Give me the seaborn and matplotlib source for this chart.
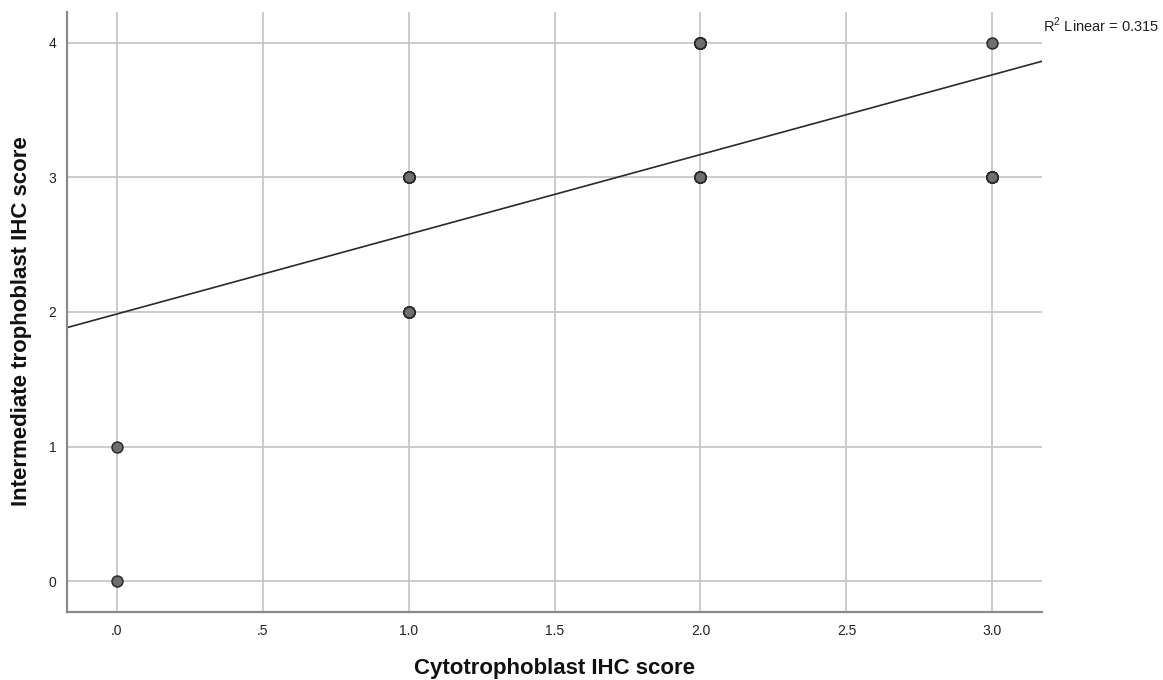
import numpy as np
import pandas as pd
import matplotlib
matplotlib.use("Agg")
import matplotlib.pyplot as plt
import seaborn as sns

# Data: distinct (x, y) score combinations and how many cases share each
x_scores = [0, 0, 1, 1, 2, 2, 3, 3]
y_scores = [0, 1, 2, 3, 3, 4, 3, 4]
case_counts = [1, 1, 5, 7, 7, 12, 8, 1]

x_ticks = [0.0, 0.5, 1.0, 1.5, 2.0, 2.5, 3.0]
x_tick_labels = [".0", ".5", "1.0", "1.5", "2.0", "2.5", "3.0"]
y_ticks = [0, 1, 2, 3, 4]
y_tick_labels = ["0", "1", "2", "3", "4"]
r2_label = "R$^2$ Linear = 0.315"

df = pd.DataFrame({
    "Cytotrophoblast IHC score": np.repeat(x_scores, case_counts),
    "Intermediate trophoblast IHC score": np.repeat(y_scores, case_counts),
})

sns.set_theme(style="white")
plt.rcParams["font.family"] = ["Liberation Sans", "DejaVu Sans"]
plt.rcParams["mathtext.fontset"] = "custom"
plt.rcParams["mathtext.rm"] = "Liberation Sans"

fig = plt.figure(figsize=(11.63, 6.8), dpi=100)
ax = fig.add_axes([0.0576, 0.100, 0.8384, 0.8824])

ax.set_xlim(-0.17, 3.17)
ax.set_ylim(-0.23, 4.23)

ax.grid(True, color="#c8c8c8", linewidth=1.3)
ax.set_axisbelow(True)

sns.regplot(data=df, x="Cytotrophoblast IHC score",
            y="Intermediate trophoblast IHC score",
            ax=ax, ci=None, truncate=False,
            scatter_kws=dict(s=62, color="#6e6e6e", edgecolor="#2a2a2a",
                             linewidths=1.1, alpha=1, zorder=3),
            line_kws=dict(color="#2a2a2a", linewidth=1.2, zorder=2))

ax.set_xticks(x_ticks)
ax.set_xticklabels(x_tick_labels, fontsize=10, color="#222222")
ax.set_yticks(y_ticks)
ax.set_yticklabels(y_tick_labels, fontsize=10, color="#222222")
ax.tick_params(axis="x", length=0, pad=8.5)
ax.tick_params(axis="y", length=0, pad=7.5)

for side in ["top", "right"]:
    ax.spines[side].set_visible(False)
for side in ["left", "bottom"]:
    ax.spines[side].set_color("#8a8a8a")
    ax.spines[side].set_linewidth(1.6)

ax.set_xlabel("Cytotrophoblast IHC score", fontsize=16, fontweight="bold",
              color="#111111")
ax.set_ylabel("Intermediate trophoblast IHC score", fontsize=16,
              fontweight="bold", color="#111111")
ax.xaxis.set_label_coords(0.5, -0.077)
ax.yaxis.set_label_coords(-0.036, 0.485)

fig.text(0.8965, 0.962, r2_label, fontsize=10.5, color="#222222",
         ha="left", va="center")

fig.savefig("out.png", dpi=100)
